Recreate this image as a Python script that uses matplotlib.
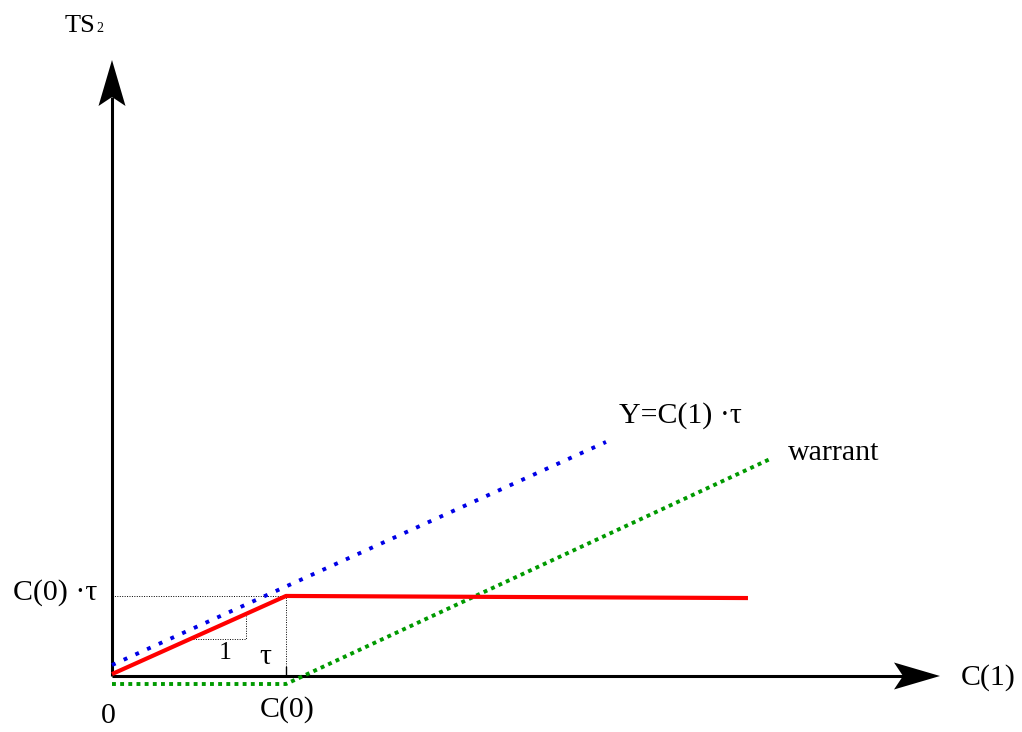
import numpy as np
import matplotlib
matplotlib.use("Agg")
from matplotlib import pyplot as plt
from matplotlib.patches import Polygon

# %%
#
# DATA (units: C(0) = 1 on the x axis, same scale on the y axis)
#
tau = 0.46
c0 = 1.0

# kinked red payoff
red_x = [0.0, c0, 3.655]
red_y = [0.011, c0 * tau, 0.448]

# blue dotted line Y = C(1) * tau
blue_x = [0.0, 2.839]
blue_y = [0.063, 1.345]

# green dotted warrant
warrant_x = [0.0, c0, 3.782]
warrant_y = [-0.046, -0.046, 1.247]

# little slope triangle
tri_x = [0.466, 0.770, 0.770]
tri_y = [0.213, 0.213, 0.345]

# %%
#
# PLOT
#
S = 174.0   # pixels per unit
X0, Y0 = 112, 676   # origin in pixels


def px(xp, yp):
    return (xp - X0) / S, (Y0 - yp) / S


plt.rcParams['font.family'] = ['Liberation Serif', 'DejaVu Serif']

fig = plt.figure(figsize=(10.22, 7.32), dpi=100)
ax = fig.add_axes([0, 0, 1, 1])
ax.set_xlim(-X0 / S, (1022 - X0) / S)
ax.set_ylim((Y0 - 732) / S, Y0 / S)
ax.axis('off')

# axes with stealth arrowheads
ytop = px(0, 60)[1]
xend = px(940, 0)[0]
ax.plot([0, 0], [0, px(0, 97)[1]], color='black', lw=2.2, solid_capstyle='butt')
ax.plot([0, px(905, 0)[0]], [0, 0], color='black', lw=2.2, solid_capstyle='butt')
hw, hl, notch = 13.5 / S, 46 / S, 9 / S
ax.add_patch(Polygon([(0, ytop), (-hw, ytop - hl), (0, ytop - hl + notch), (hw, ytop - hl)],
                     closed=True, color='black', lw=0))
ax.add_patch(Polygon([(xend, 0), (xend - hl, hw), (xend - hl + notch, 0), (xend - hl, -hw)],
                     closed=True, color='black', lw=0))

# thin guide lines
ax.plot([0, c0], [c0 * tau, c0 * tau], color='black', lw=0.7, ls=(0, (1, 1.5)))
ax.plot([c0, c0], [0, c0 * tau], color='black', lw=0.7, ls=(0, (1, 1.5)))
ax.plot([c0, c0], [0, 9 / S], color='black', lw=1.0)
ax.plot(tri_x, tri_y, color='black', lw=0.7, ls=(0, (1, 1.5)))

# lines
ax.plot(blue_x, blue_y, color='#0000e6', lw=2.8, ls=(0, (1, 2.3)))
ax.plot(warrant_x, warrant_y, color='#009a00', lw=2.8, ls=(0, (1, 1.1)))
ax.plot(red_x, red_y, color='#ff0000', lw=3.0, solid_capstyle='butt')

# labels
fs = 21.5
ax.text(*px(97, 593), 'C(0) ·τ', fontsize=fs, ha='right', va='center')
ax.text(*px(265, 657), 'τ', fontsize=fs, ha='center', va='center')
ax.text(*px(225, 653), '1', fontsize=fs - 3, ha='center', va='center')
ax.text(*px(108, 716), '0', fontsize=fs, ha='center', va='center')
ax.text(*px(287, 710), 'C(0)', fontsize=fs, ha='center', va='center')
ax.text(*px(619, 416), 'Y=C(1) ·τ', fontsize=fs, ha='left', va='center')
ax.text(*px(788, 453), 'warrant', fontsize=fs, ha='left', va='center')
ax.text(*px(961, 678), 'C(1)', fontsize=fs, ha='left', va='center')
ax.text(*px(65, 32), 'TS', fontsize=19, ha='left', va='baseline')
ax.text(*px(96, 32), '2', fontsize=10, ha='left', va='baseline')

fig.savefig('out.png', dpi=100, facecolor='white')
